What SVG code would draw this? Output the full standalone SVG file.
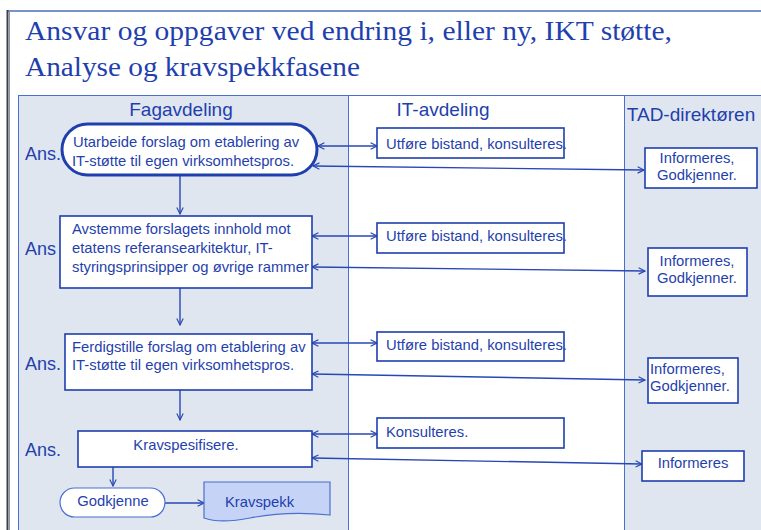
<svg xmlns="http://www.w3.org/2000/svg" width="761" height="530" viewBox="0 0 761 530">
  <style>
    .title { font-family: "Liberation Serif", "Times New Roman", serif; font-size: 28px; fill: #1f3fae; }
    .lanehead { font-family: "Liberation Sans", Arial, sans-serif; font-size: 19px; fill: #1f3fae; }
    .ans { font-family: "Liberation Sans", Arial, sans-serif; font-size: 18px; fill: #1f3fae; }
    .t { font-family: "Liberation Sans", Arial, sans-serif; font-size: 14.8px; fill: #1f3fae; }
    .box { fill: #ffffff; stroke: #1f3fae; stroke-width: 1.6; }
    .lane { stroke: #4a6fd0; stroke-width: 1; }
    .conn { fill: none; stroke: #2846b4; stroke-width: 1.4; }
  </style>
  <defs>
    <marker id="arr" viewBox="0 0 10 10" refX="9" refY="5" markerWidth="8" markerHeight="8" orient="auto-start-reverse" markerUnits="userSpaceOnUse">
      <path d="M1,1 L9,5 L1,9" fill="none" stroke="#2846b4" stroke-width="1.4"/>
    </marker>
  </defs>

  <!-- page background and frame -->
  <rect x="0" y="0" width="761" height="530" fill="#ffffff"/>
  <line x1="7" y1="11" x2="761" y2="11" stroke="#4a6fb8" stroke-width="1.5"/>
  <line x1="7.5" y1="10" x2="7.5" y2="530" stroke="#3a3f4a" stroke-width="2"/>
  <line x1="9.5" y1="10" x2="9.5" y2="530" stroke="#8a96b0" stroke-width="1"/>

  <!-- heading -->
  <text class="title" x="25" y="40" textLength="647" lengthAdjust="spacingAndGlyphs">Ansvar og oppgaver ved endring i, eller ny, IKT støtte,</text>
  <text class="title" x="25" y="76" textLength="335" lengthAdjust="spacingAndGlyphs">Analyse og kravspekkfasene</text>

  <!-- swimlanes -->
  <g id="lanes">
    <rect class="lane" x="18.5" y="95.5" width="330" height="440" fill="#dfe6ef"/>
    <rect class="lane" x="348.5" y="95.5" width="276" height="440" fill="#ffffff"/>
    <rect class="lane" x="624.5" y="95.5" width="140" height="440" fill="#dfe6ef"/>
    <text class="lanehead" x="181" y="116" text-anchor="middle">Fagavdeling</text>
    <text class="lanehead" x="443" y="116" text-anchor="middle">IT-avdeling</text>
    <text class="lanehead" x="691" y="121" text-anchor="middle">TAD-direktøren</text>
  </g>

  <!-- responsibility labels -->
  <g id="ans-labels">
    <text class="ans" x="25" y="160">Ans.</text>
    <text class="ans" x="25" y="255">Ans</text>
    <text class="ans" x="25" y="370">Ans.</text>
    <text class="ans" x="25" y="456">Ans.</text>
  </g>

  <!-- connectors -->
  <g id="connectors">
    <line class="conn" x1="180" y1="176" x2="180" y2="214" marker-end="url(#arr)"/>
    <line class="conn" x1="180" y1="288" x2="180" y2="325" marker-end="url(#arr)"/>
    <line class="conn" x1="180" y1="390" x2="180" y2="420" marker-end="url(#arr)"/>
    <line class="conn" x1="113" y1="467" x2="113" y2="486" marker-end="url(#arr)"/>
    <line class="conn" x1="165" y1="503" x2="204" y2="503" marker-end="url(#arr)"/>

    <line class="conn" x1="318" y1="146" x2="377" y2="146" marker-start="url(#arr)" marker-end="url(#arr)"/>
    <line class="conn" x1="313" y1="166" x2="644" y2="170" marker-start="url(#arr)" marker-end="url(#arr)"/>

    <line class="conn" x1="312" y1="236" x2="377" y2="236" marker-start="url(#arr)" marker-end="url(#arr)"/>
    <line class="conn" x1="312" y1="267" x2="645" y2="271" marker-start="url(#arr)" marker-end="url(#arr)"/>

    <line class="conn" x1="312" y1="343" x2="377" y2="343" marker-start="url(#arr)" marker-end="url(#arr)"/>
    <line class="conn" x1="312" y1="374" x2="645" y2="380" marker-start="url(#arr)" marker-end="url(#arr)"/>

    <line class="conn" x1="312" y1="434" x2="377" y2="434" marker-start="url(#arr)" marker-end="url(#arr)"/>
    <line class="conn" x1="312" y1="458" x2="642" y2="464" marker-start="url(#arr)" marker-end="url(#arr)"/>
  </g>

  <!-- Fagavdeling steps -->
  <g id="step1">
    <rect x="62" y="124" width="255" height="51" rx="25.5" ry="25.5" fill="#ffffff" stroke="#1f3fae" stroke-width="3"/>
    <text class="t" x="73" y="147">Utarbeide forslag om etablering av</text>
    <text class="t" x="72" y="166">IT-støtte til egen virksomhetspros.</text>
  </g>
  <g id="step2">
    <rect class="box" x="60" y="216" width="252" height="72"/>
    <text class="t" x="72" y="234">Avstemme forslagets innhold  mot</text>
    <text class="t" x="72" y="253">etatens referansearkitektur, IT-</text>
    <text class="t" x="72" y="272">styringsprinsipper og øvrige rammer</text>
  </g>
  <g id="step3">
    <rect class="box" x="65" y="334" width="247" height="56"/>
    <text class="t" x="72" y="352">Ferdigstille forslag om  etablering av</text>
    <text class="t" x="72" y="370">IT-støtte til egen virksomhetspros.</text>
  </g>
  <g id="step4">
    <rect class="box" x="78" y="431" width="234" height="36"/>
    <text class="t" x="186" y="450" text-anchor="middle">Kravspesifisere.</text>
  </g>
  <g id="godkjenne">
    <rect x="60" y="488" width="105" height="29" rx="14.5" ry="14.5" fill="#ffffff" stroke="#4a6fd0" stroke-width="1.2"/>
    <text class="t" x="113" y="506" text-anchor="middle">Godkjenne</text>
  </g>
  <g id="kravspekk">
    <path d="M204,482 L330,482 L330,515 C300,512 275,513 250,518 C230,522 215,522 204,518 Z" fill="#c5d3f6" stroke="#4a6fd0" stroke-width="1.2"/>
    <text class="t" x="225" y="507" font-size="15.8">Kravspekk</text>
  </g>

  <!-- IT-avdeling boxes -->
  <g id="it1">
    <rect class="box" x="377" y="128" width="187" height="30"/>
    <text class="t" x="386" y="149">Utføre bistand, konsulteres.</text>
  </g>
  <g id="it2">
    <rect class="box" x="377" y="223" width="187" height="30"/>
    <text class="t" x="386" y="241">Utføre bistand, konsulteres.</text>
  </g>
  <g id="it3">
    <rect class="box" x="377" y="332" width="187" height="29"/>
    <text class="t" x="386" y="350">Utføre bistand, konsulteres.</text>
  </g>
  <g id="it4">
    <rect class="box" x="377" y="418" width="187" height="30"/>
    <text class="t" x="386" y="437">Konsulteres.</text>
  </g>

  <!-- TAD-direktøren boxes -->
  <g id="tad1">
    <rect class="box" x="645" y="148" width="112" height="40"/>
    <text class="t" x="697" y="163" text-anchor="middle">Informeres,</text>
    <text class="t" x="697" y="180" text-anchor="middle">Godkjenner.</text>
  </g>
  <g id="tad2">
    <rect class="box" x="648" y="248" width="99" height="48"/>
    <text class="t" x="697" y="266" text-anchor="middle">Informeres,</text>
    <text class="t" x="697" y="283" text-anchor="middle">Godkjenner.</text>
  </g>
  <g id="tad3">
    <rect class="box" x="648" y="358" width="90" height="45"/>
    <text class="t" x="650" y="374">Informeres,</text>
    <text class="t" x="650" y="391">Godkjenner.</text>
  </g>
  <g id="tad4">
    <rect class="box" x="642" y="451" width="102" height="30"/>
    <text class="t" x="693" y="468" text-anchor="middle">Informeres</text>
  </g>
</svg>
